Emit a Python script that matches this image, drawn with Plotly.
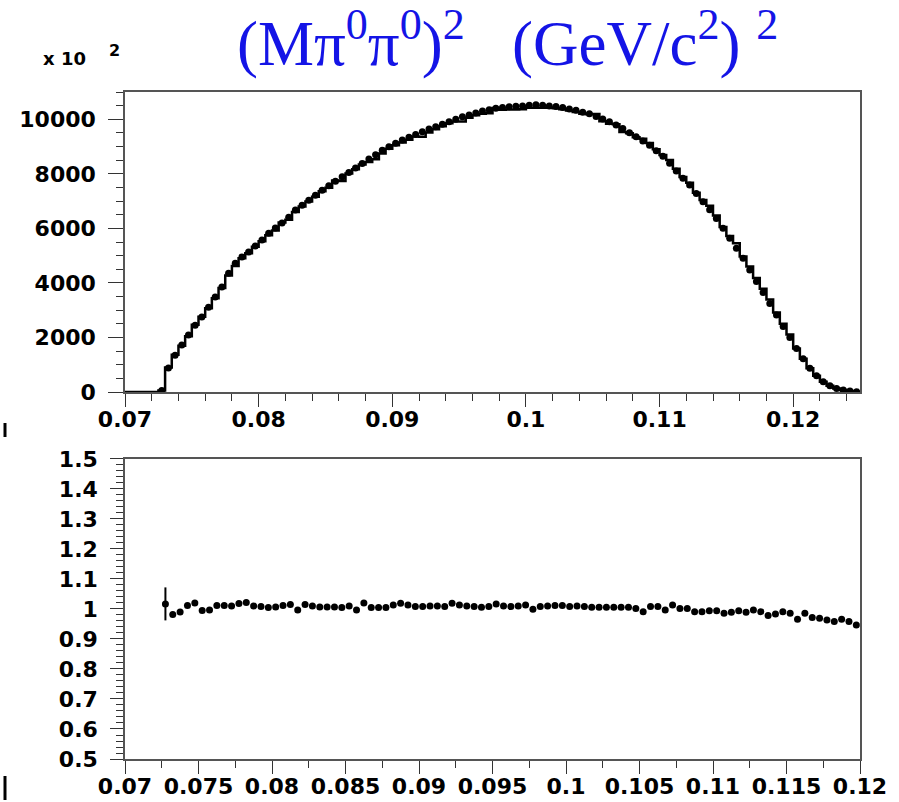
import numpy as np
import plotly.graph_objects as go
from plotly.subplots import make_subplots

# ---- data ----
bin_start = 0.0725
bin_width = 0.0005

data_counts = [
    60, 880, 1350, 1720, 2090, 2450, 2750, 3110, 3480, 3850,
    4350, 4720, 4950, 5130, 5350, 5570, 5820, 6010, 6200, 6410,
    6670, 6850, 7030, 7210, 7400, 7560, 7730, 7890, 8050, 8210,
    8380, 8540, 8700, 8860, 8990, 9120, 9240, 9340, 9440, 9540,
    9640, 9730, 9820, 9910, 10000, 10090, 10160, 10230, 10300, 10350,
    10400, 10430, 10460, 10480, 10490, 10510, 10530, 10510, 10490, 10470,
    10430, 10380, 10330, 10260, 10200, 10100, 10010, 9910, 9790, 9660,
    9510, 9360, 9200, 9050, 8850, 8640, 8390, 8100, 7840, 7590,
    7280, 6980, 6680, 6360, 6000, 5640, 5270, 4900, 4470, 4050,
    3650, 3250, 2820, 2400, 2000, 1600, 1220, 870, 600, 380,
    230, 130, 70, 35, 10,
]

ratio = [
    1.017, 0.982, 0.990, 1.012, 1.020, 0.995, 0.997, 1.012, 1.012, 1.010,
    1.018, 1.022, 1.010, 1.008, 1.005, 1.007, 1.012, 1.015, 0.997, 1.015,
    1.010, 1.007, 1.007, 1.007, 1.005, 1.010, 0.997, 1.020, 1.005, 1.005,
    1.005, 1.013, 1.019, 1.013, 1.008, 1.008, 1.010, 1.010, 1.008, 1.019,
    1.013, 1.010, 1.008, 1.006, 1.008, 1.017, 1.010, 1.008, 1.010, 1.013,
    0.999, 1.008, 1.010, 1.012, 1.012, 1.008, 1.010, 1.008, 1.006, 1.006,
    1.006, 1.006, 1.006, 1.006, 1.002, 0.991, 1.008, 1.008, 0.997, 1.013,
    1.002, 1.002, 0.991, 0.991, 0.994, 0.994, 0.986, 0.989, 0.994, 0.989,
    0.997, 0.991, 0.978, 0.983, 0.991, 0.986, 0.966, 0.986, 0.972, 0.969,
    0.963, 0.958, 0.966, 0.958, 0.947,
]
ratio_err = [0.055] + [0.0] * (len(ratio) - 1)

top_yticks = [0, 2000, 4000, 6000, 8000, 10000]
top_ylabels = ["0", "2000", "4000", "6000", "8000", "10000"]
top_xticks = [0.07, 0.08, 0.09, 0.10, 0.11, 0.12]
top_xlabels = ["0.07", "0.08", "0.09", "0.1", "0.11", "0.12"]
bot_xticks = [0.07, 0.075, 0.08, 0.085, 0.09, 0.095, 0.10, 0.105, 0.11, 0.115, 0.12]
bot_xlabels = ["0.07", "0.075", "0.08", "0.085", "0.09", "0.095", "0.1", "0.105", "0.11", "0.115", "0.12"]
bot_yticks = [0.5, 0.6, 0.7, 0.8, 0.9, 1.0, 1.1, 1.2, 1.3, 1.4, 1.5]
bot_ylabels = ["0.5", "0.6", "0.7", "0.8", "0.9", "1", "1.1", "1.2", "1.3", "1.4", "1.5"]

# ---- derived ----
n = len(data_counts)
centers = bin_start + bin_width * (np.arange(n) + 0.5)
mc = np.array(data_counts, dtype=float)
r = np.ones(n)
r[:len(ratio)] = ratio
mc = mc / r
edges = bin_start + bin_width * np.arange(n + 1)
step_x = np.concatenate([[0.07], edges])
step_y = np.concatenate([[0.0], mc, [mc[-1]]])
ratio_x = centers[:len(ratio)]

fig = make_subplots(rows=2, cols=1, shared_xaxes=False, vertical_spacing=0.1)

fig.add_trace(go.Scatter(x=step_x, y=step_y, mode="lines", line_shape="hv",
                         line=dict(color="black", width=2.5), showlegend=False,
                         hoverinfo="skip"), row=1, col=1)
fig.add_trace(go.Scatter(x=centers, y=data_counts, mode="markers",
                         marker=dict(color="black", size=7), showlegend=False),
              row=1, col=1)
fig.add_trace(go.Scatter(x=ratio_x, y=ratio, mode="markers",
                         error_y=dict(type="data", array=ratio_err, color="black",
                                      thickness=2, width=0),
                         marker=dict(color="black", size=7), showlegend=False),
              row=2, col=1)

tickfont = dict(family="DejaVu Sans", size=22, color="black", weight="bold")
axcommon = dict(showgrid=False, zeroline=False, showline=True, mirror=True,
                linecolor="#555555", linewidth=1.5, ticks="outside",
                tickcolor="#333333", tickwidth=1, tickfont=tickfont,
                automargin=False)

fig.update_layout(
    width=899, height=802,
    margin=dict(l=125, r=39, t=92, b=43),
    paper_bgcolor="white", plot_bgcolor="white",
    xaxis=dict(domain=[0, 1], range=[0.07, 0.125], tickvals=top_xticks,
               ticktext=top_xlabels, ticklen=13, ticklabelstandoff=-6,
               minor=dict(dtick=0.002, tick0=0.07, ticklen=7, ticks="outside",
                          tickcolor="#333333"),
               anchor="y", **axcommon),
    yaxis=dict(domain=[0.5502, 1], range=[0, 11000], tickvals=top_yticks,
               ticktext=top_ylabels, ticklen=15, ticklabelstandoff=8,
               minor=dict(dtick=500, ticklen=7, ticks="outside", tickcolor="#333333"),
               anchor="x", **axcommon),
    xaxis2=dict(domain=[0, 1], range=[0.07, 0.12], tickvals=bot_xticks,
                ticktext=bot_xlabels, ticklen=13, ticklabelstandoff=-6,
                minor=dict(dtick=0.0025, tick0=0.07, ticklen=7, ticks="outside",
                           tickcolor="#333333"),
                anchor="y2", **axcommon),
    yaxis2=dict(domain=[0, 0.4498], range=[0.5, 1.5], tickvals=bot_yticks,
                ticktext=bot_ylabels, ticklen=13, ticklabelstandoff=8,
                minor=dict(dtick=0.02, tick0=0.5, ticklen=7, ticks="outside",
                           tickcolor="#333333"),
                anchor="x2", **axcommon),
)

def px(xpix):
    return (xpix - 125) / 735

def py(ypix):
    return (802 - 43 - ypix) / 667

fig.add_annotation(
    xref="paper", yref="paper", x=px(235), y=py(40),
    xanchor="left", yanchor="middle", showarrow=False,
    text="(Mπ<sup>0</sup>π<sup>0</sup>)<sup>2</sup>&nbsp;&nbsp;&nbsp;(GeV/c<sup>2</sup>)&nbsp;<sup>2</sup>",
    font=dict(family="Liberation Serif", size=63, color="#1414e6"),
)
fig.add_annotation(
    xref="paper", yref="paper", x=px(41), y=py(58),
    xanchor="left", yanchor="middle", showarrow=False,
    text="x 10",
    font=dict(family="DejaVu Sans", size=18, color="black", weight="bold"),
)
fig.add_annotation(
    xref="paper", yref="paper", x=px(107), y=py(50),
    xanchor="left", yanchor="middle", showarrow=False,
    text="2",
    font=dict(family="DejaVu Sans", size=16, color="black", weight="bold"),
)
for (y0, y1) in ((423, 437), (776, 800)):
    fig.add_shape(type="line", xref="paper", yref="paper",
                  x0=px(5), x1=px(5), y0=py(y0), y1=py(y1),
                  line=dict(color="black", width=3))

fig.write_html("out.html")
